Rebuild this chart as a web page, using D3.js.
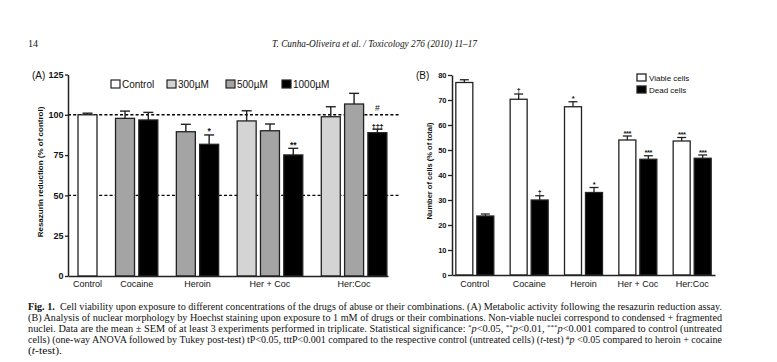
<!DOCTYPE html>
<html><head><meta charset="utf-8">
<script src="https://cdn.jsdelivr.net/npm/d3@7"></script>
<style>body{margin:0;background:#fff}</style>
</head><body>
<svg id="c" width="777" height="362"></svg>
<script>
// ---------- Panel A data ----------
const groupsA = ["Control", "Cocaine", "Heroin", "Her + Coc", "Her:Coc"];
const legendA = ["Control", "300\u00b5M", "500\u00b5M", "1000\u00b5M"];
const barGroupA = [0, 1, 1, 2, 2, 3, 3, 3, 4, 4, 4];
const barConcA  = [0, 2, 3, 2, 3, 1, 2, 3, 1, 2, 3];
const valuesA   = [100, 97.8, 96.8, 89.5, 81.7, 96.2, 90.1, 75.1, 98.8, 106.7, 88.9];
const errorsA   = [1.0, 4.5, 4.7, 4.6, 5.8, 6.3, 4.2, 4.1, 6.2, 6.6, 2.2];
const marksA    = ["", "", "", "", "*", "", "", "**", "", "", "\u2020\u2020\u2020"];
const marks2A   = ["", "", "", "", "", "", "", "", "", "", "#"];
const ticksA    = [0, 25, 50, 75, 100, 125];
const refLinesA = [50, 100];

// ---------- Panel B data ----------
const groupsB   = ["Control", "Cocaine", "Heroin", "Her + Coc", "Her:Coc"];
const seriesB   = ["Viable cells", "Dead cells"];
const viableB   = [77.0, 70.3, 67.3, 54.0, 53.6];
const viableErrB= [1.1, 2.1, 2.0, 1.6, 1.4];
const deadB     = [23.6, 30.0, 33.0, 46.3, 46.7];
const deadErrB  = [0.8, 1.7, 2.0, 1.4, 1.3];
const viableMarkB = ["", "\u2020", "*", "***", "***"];
const deadMarkB   = ["", "\u2020", "*", "***", "***"];
const ticksB    = [0, 10, 20, 30, 40, 50, 60, 70, 80];

const svg = d3.select("#c");
const SANS = "'Liberation Sans', Arial, sans-serif";
const SERIF = "'Liberation Serif', 'DejaVu Serif', serif";
const ink = "#111";

// ---------- Page header ----------
svg.append("text").attr("x", 28).attr("y", 47).attr("font-family", SERIF)
  .attr("font-size", 10).attr("fill", ink).text("14");
svg.append("text").attr("x", 272).attr("y", 47).attr("font-family", SERIF)
  .attr("font-size", 10).attr("font-style", "italic").attr("fill", ink)
  .attr("textLength", 205).attr("lengthAdjust", "spacingAndGlyphs")
  .text("T. Cunha-Oliveira et al. / Toxicology 276 (2010) 11\u201317");

// ================= Panel A =================
const concFill = ["#ffffff", "#d4d4d4", "#a4a4a4", "#000000"];
const yA = d3.scaleLinear().domain([0, 125]).range([276, 74.5]);
const gapA = 0.61;
const unitA = barGroupA.map((g, i) => i + g * gapA);
const xA = d3.scaleLinear().domain([0, d3.max(unitA)]).range([87.5, 377.4]);
const bwA = 19;
const axisXA = d3.scaleLinear().domain([0, 1]).range([68, 388]);

const gA = svg.append("g");
gA.selectAll("line.ref").data(refLinesA).join("line")
  .attr("x1", 68).attr("x2", 399)
  .attr("y1", d => yA(d)).attr("y2", d => yA(d))
  .attr("stroke", "#000").attr("stroke-width", 1.4).attr("stroke-dasharray", "3,2.2");

gA.selectAll("rect.bar").data(valuesA).join("rect")
  .attr("x", (d, i) => xA(unitA[i]) - bwA / 2)
  .attr("y", d => yA(d))
  .attr("width", bwA)
  .attr("height", d => yA(0) - yA(d))
  .attr("fill", (d, i) => concFill[barConcA[i]])
  .attr("stroke", "#222").attr("stroke-width", 1.3);

valuesA.forEach((v, i) => {
  const cx = xA(unitA[i]);
  const top = yA(v + errorsA[i]);
  gA.append("line").attr("x1", cx).attr("x2", cx).attr("y1", yA(v)).attr("y2", top)
    .attr("stroke", "#222").attr("stroke-width", 1.4);
  gA.append("line").attr("x1", cx - 5).attr("x2", cx + 5).attr("y1", top).attr("y2", top)
    .attr("stroke", "#222").attr("stroke-width", 1.4);
  if (marksA[i]) {
    const isDag = marksA[i].includes("\u2020");
    gA.append("text").attr("x", cx)
      .attr("y", top - 0.5)
      .attr("text-anchor", "middle").attr("font-family", SANS)
      .attr("font-size", isDag ? 8 : 8.5).attr("font-weight", "bold").attr("fill", ink)
      .attr("letter-spacing", isDag ? -0.5 : 0)
      .text(marksA[i]);
  }
  if (marks2A[i]) {
    gA.append("text").attr("x", cx).attr("y", top - 18)
      .attr("text-anchor", "middle").attr("font-family", SANS)
      .attr("font-size", 8.5).attr("fill", ink).text(marks2A[i]);
  }
});

const yAxA = gA.append("g").attr("transform", "translate(68,0)")
  .call(d3.axisLeft(yA).tickValues(ticksA).tickSize(3).tickSizeOuter(0).tickPadding(1.5));
yAxA.select(".domain").attr("stroke", "#222").attr("stroke-width", 1.5);
yAxA.selectAll(".tick line").attr("stroke", "#222").attr("stroke-width", 1.3);
yAxA.selectAll(".tick text").attr("font-family", SANS).attr("font-size", 9)
  .attr("font-weight", "bold").attr("fill", ink);
const xAxA = gA.append("g").attr("transform", `translate(0,${yA(0)})`)
  .call(d3.axisBottom(axisXA).tickValues([]).tickSizeOuter(0));
xAxA.select(".domain").attr("stroke", "#222").attr("stroke-width", 1.5);

const groupCenterA = groupsA.map((g, gi) => {
  const u = unitA.filter((_, i) => barGroupA[i] === gi);
  return (xA(d3.min(u)) + xA(d3.max(u))) / 2;
});
gA.selectAll("text.cat").data(groupsA).join("text")
  .attr("x", (d, i) => groupCenterA[i]).attr("y", 287)
  .attr("text-anchor", "middle").attr("font-family", SANS).attr("font-size", 9)
  .attr("fill", ink).text(d => d);

gA.append("text").attr("transform", "translate(43,172) rotate(-90)")
  .attr("text-anchor", "middle").attr("font-family", SANS).attr("font-size", 8)
  .attr("font-weight", "bold").attr("fill", ink)
  .text("Resazurin reduction (% of control)");
gA.append("text").attr("x", 32).attr("y", 79).attr("font-family", SANS)
  .attr("font-size", 10).attr("fill", ink).text("(A)");

const legXA = [111, 167, 226, 282];
legendA.forEach((t, i) => {
  gA.append("rect").attr("x", legXA[i]).attr("y", 80).attr("width", 9).attr("height", 8)
    .attr("fill", concFill[i]).attr("stroke", "#222").attr("stroke-width", 1.2);
  gA.append("text").attr("x", legXA[i] + 11).attr("y", 88).attr("font-family", SANS)
    .attr("font-size", 10).attr("fill", ink).text(t);
});

// ================= Panel B =================
const yB = d3.scaleLinear().domain([0, 80]).range([275, 75]);
const xB = d3.scalePoint().domain(groupsB).range([452, 715]).padding(0.42);
const bwB = 17, offB = 10.5;
const seriesFill = ["#ffffff", "#000000"];
const gB = svg.append("g");

const seriesData = [
  { vals: viableB, errs: viableErrB, marks: viableMarkB, off: -offB, fill: seriesFill[0] },
  { vals: deadB, errs: deadErrB, marks: deadMarkB, off: offB, fill: seriesFill[1] }
];
seriesData.forEach(s => {
  s.vals.forEach((v, i) => {
    const cx = xB(groupsB[i]) + s.off;
    gB.append("rect").attr("x", cx - bwB / 2).attr("y", yB(v)).attr("width", bwB)
      .attr("height", yB(0) - yB(v)).attr("fill", s.fill)
      .attr("stroke", "#222").attr("stroke-width", 1.3);
    const top = yB(v + s.errs[i]);
    gB.append("line").attr("x1", cx).attr("x2", cx).attr("y1", yB(v)).attr("y2", top)
      .attr("stroke", "#222").attr("stroke-width", 1.3);
    gB.append("line").attr("x1", cx - 4.5).attr("x2", cx + 4.5).attr("y1", top).attr("y2", top)
      .attr("stroke", "#222").attr("stroke-width", 1.3);
    if (s.marks[i]) {
      const isDag = s.marks[i].includes("\u2020");
      gB.append("text").attr("x", cx).attr("y", isDag ? top - 1 : top - 0.5)
        .attr("text-anchor", "middle").attr("font-family", SANS)
        .attr("font-size", isDag ? 7 : 7.5).attr("font-weight", "bold").attr("fill", ink)
        .attr("letter-spacing", isDag ? 0 : -0.4)
        .text(s.marks[i]);
    }
  });
});

const yAxB = gB.append("g").attr("transform", "translate(452,0)")
  .call(d3.axisLeft(yB).tickValues(ticksB).tickSize(4).tickSizeOuter(0).tickPadding(1.5));
yAxB.select(".domain").attr("stroke", "#222").attr("stroke-width", 1.5);
yAxB.selectAll(".tick line").attr("stroke", "#222").attr("stroke-width", 1.3);
yAxB.selectAll(".tick text").attr("font-family", SANS).attr("font-size", 7.5)
  .attr("font-weight", "bold").attr("fill", ink);
const xAxB = gB.append("g").attr("transform", `translate(0,${yB(0)})`)
  .call(d3.axisBottom(xB).tickValues([]).tickSizeOuter(0));
xAxB.select(".domain").attr("stroke", "#222").attr("stroke-width", 1.5);

gB.selectAll("text.cat").data(groupsB).join("text")
  .attr("x", d => xB(d)).attr("y", 287)
  .attr("text-anchor", "middle").attr("font-family", SANS).attr("font-size", 9)
  .attr("fill", ink).text(d => d);

gB.append("text").attr("transform", "translate(432,171) rotate(-90)")
  .attr("text-anchor", "middle").attr("font-family", SANS).attr("font-size", 7.5)
  .attr("font-weight", "bold").attr("fill", ink)
  .text("Number of cells (% of total)");
gB.append("text").attr("x", 416).attr("y", 79).attr("font-family", SANS)
  .attr("font-size", 10).attr("fill", ink).text("(B)");

seriesB.forEach((t, i) => {
  const y = 74 + i * 12;
  gB.append("rect").attr("x", 637).attr("y", y).attr("width", 9).attr("height", 7)
    .attr("fill", seriesFill[i]).attr("stroke", "#222").attr("stroke-width", 1.3);
  gB.append("text").attr("x", 649).attr("y", y + 7).attr("font-family", SANS)
    .attr("font-size", 8).attr("fill", ink).text(t);
});

// ---------- Caption ----------
const captionLines = [
  [["Fig. 1.", "b"], ["  Cell viability upon exposure to different concentrations of the drugs of abuse or their combinations. (A) Metabolic activity following the resazurin reduction assay.", ""]],
  [["(B) Analysis of nuclear morphology by Hoechst staining upon exposure to 1 mM of drugs or their combinations. Non-viable nuclei correspond to condensed + fragmented", ""]],
  [["nuclei. Data are the mean \u00b1 SEM of at least 3 experiments performed in triplicate. Statistical significance: ", ""], ["*", "s"], ["p", "i"], ["<0.05, ", ""], ["**", "s"], ["p", "i"], ["<0.01, ", ""], ["***", "s"], ["p", "i"], ["<0.001 compared to control (untreated", ""]],
  [["cells) (one-way ANOVA followed by Tukey post-test) tP<0.05, tttP<0.001 compared to the respective control (untreated cells) (", ""], ["t", "i"], ["-test) ", ""], ["#", "s"], ["p", "i"], [" <0.05 compared to heroin + cocaine", ""]],
  [["(", ""], ["t", "i"], ["-test).", ""]]
];
const capWidths = [694, 694, 694, 694, 34];
captionLines.forEach((segs, li) => {
  const t = svg.append("text").attr("x", 28).attr("y", 310 + li * 11)
    .attr("font-family", SERIF).attr("font-size", 9.6).attr("fill", ink)
    .attr("textLength", capWidths[li]).attr("lengthAdjust", "spacingAndGlyphs")
    .attr("xml:space", "preserve");
  segs.forEach(([s, st]) => {
    const ts = t.append("tspan").text(s);
    if (st === "b") ts.attr("font-weight", "bold");
    if (st === "i") ts.attr("font-style", "italic");
    if (st === "s") ts.attr("font-size", 6.5).attr("dy", -3).classed("sup", true);
  });
  t.selectAll("tspan").each(function (d, k, nodes) {
    if (k > 0 && d3.select(nodes[k - 1]).classed("sup")) d3.select(this).attr("dy", 3);
  });
});
</script>
</body></html>
